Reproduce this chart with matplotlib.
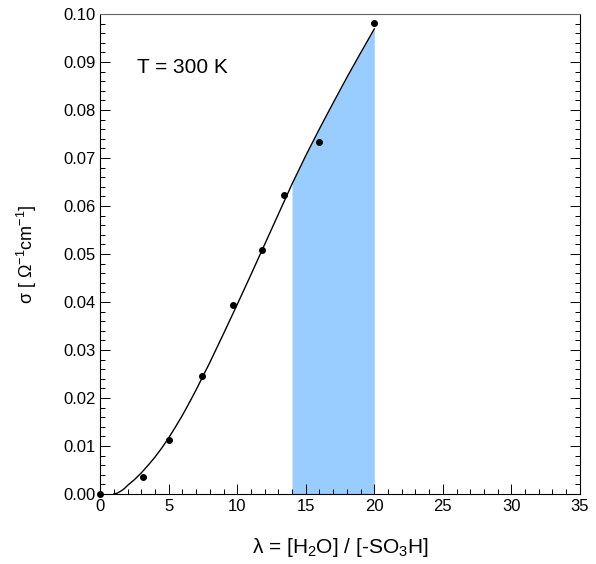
import numpy as np
import matplotlib
matplotlib.use('Agg')
import matplotlib.pyplot as plt
from matplotlib.ticker import MultipleLocator

plt.rcParams.update({
    'font.family': ['Liberation Sans', 'DejaVu Sans'],
    'font.size': 12,
    'mathtext.default': 'regular',
    'axes.linewidth': 0.8,
    'xtick.direction': 'in',
    'ytick.direction': 'in',
})

# measured points
lam_pts = [0.0, 3.1, 5.0, 7.4, 9.7, 11.8, 13.4, 16.0, 20.0]
sigma_pts = [0.0, 0.0035, 0.0113, 0.0245, 0.0393, 0.0508, 0.0623, 0.0734, 0.0981]

# fitted curve
lam_fit = [1.0, 1.25, 1.5, 1.75, 2.0, 2.5, 3.0, 3.5, 4.0, 4.5, 5.0, 5.5, 6.0,
           6.5, 7.0, 8.0, 9.0, 10.0, 11.0, 12.0, 13.0, 14.0, 15.0, 16.0,
           17.0, 18.0, 19.0, 20.0]
sigma_fit = [0.0, 0.0002, 0.0006, 0.0011, 0.0018, 0.0030, 0.0044, 0.0060,
             0.0077, 0.0096, 0.0117, 0.0140, 0.0164, 0.0190, 0.0217, 0.0274,
             0.0334, 0.0395, 0.0457, 0.0520, 0.0583, 0.0646, 0.0705, 0.0761,
             0.0815, 0.0868, 0.0919, 0.0969]

shade_from = 14.0

fig = plt.figure(figsize=(5.96, 5.64), dpi=100)
ax = fig.add_axes([0.168, 0.124, 0.805, 0.851])

lf = np.array(lam_fit)
sf = np.array(sigma_fit)
mask = lf >= shade_from
ax.fill_between(lf[mask], 0, sf[mask], color='#99CCFF', linewidth=0, zorder=1)
ax.plot(lf, sf, color='black', linewidth=1.0, zorder=2)
ax.plot(lam_pts, sigma_pts, 'o', color='black', markersize=4, zorder=3, clip_on=False)

ax.text(2.7, 0.0888, 'T = 300 K', ha='left', va='center', fontsize=15)

ax.set_xlim(0, 35)
ax.set_ylim(0, 0.10)
ax.xaxis.set_major_locator(MultipleLocator(5))
ax.xaxis.set_minor_locator(MultipleLocator(1))
ax.yaxis.set_major_locator(MultipleLocator(0.01))
ax.yaxis.set_minor_locator(MultipleLocator(0.002))
ax.yaxis.set_major_formatter(plt.FormatStrFormatter('%.2f'))
ax.tick_params(which='major', length=7, width=0.7, right=True, top=False, labelsize=12)
ax.tick_params(which='minor', length=3.5, width=0.7, right=True, top=False)
ax.spines['top'].set_color('0.4')

ax.set_xlabel(r'λ = [H$_2$O] / [-SO$_3$H]', fontsize=15, labelpad=16)
ax.set_ylabel(r'σ [ Ω$^{-1}$cm$^{-1}$]', fontsize=13, labelpad=17)

fig.savefig('out.png', dpi=100, facecolor='white')
